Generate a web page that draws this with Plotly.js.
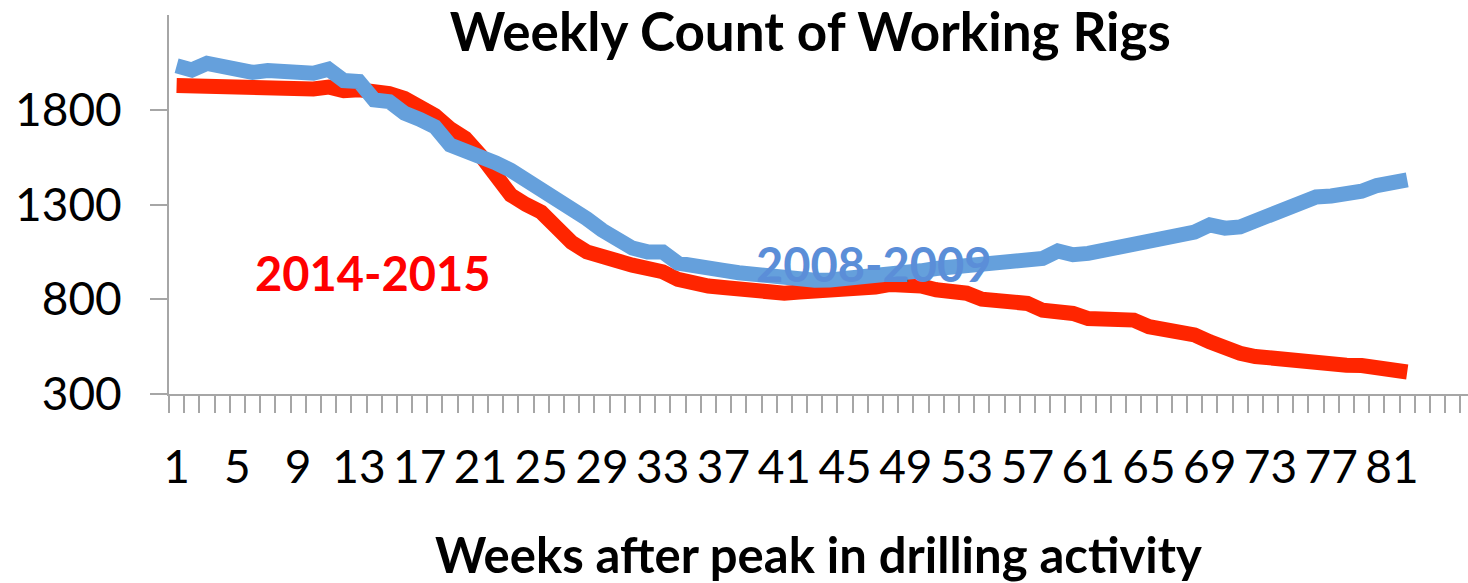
<!DOCTYPE html>
<html>
<head>
<meta charset="utf-8">
<script src="https://cdn.plot.ly/plotly-3.0.1.min.js"></script>
<style>html,body{margin:0;padding:0;background:#fff;}#chart{width:1468px;height:583px;}</style>
</head>
<body>
<div id="chart"></div>
<script>
const weeks = Array.from({length: 82}, (_, i) => i + 1);

const rigs20142015 = [1928,1925,1925,1924,1920,1909,1917,1912,1905,1910,
  1920,1900,1905,1900,1885,1860,1820,1770,1700,1650,
  1560,1450,1350,1300,1260,1180,1100,1050,1035,1003,
  980,962,945,905,882,870,862,852,845,838,
  832,838,840,842,862,857,865,878,882,870,
  850,840,832,800,790,784,778,742,735,725,
  698,698,692,690,655,642,632,612,575,540,
  515,498,487,482,478,469,458,452,450,434,
  425,416];

const rigs20082009 = [2032,2010,2045,2032,2012,1997,2007,1997,1990,1993,
  2014,1954,1949,1852,1843,1782,1750,1710,1614,1585,
  1562,1520,1480,1430,1380,1335,1290,1225,1165,1110,
  1070,1050,1050,990,972,962,952,940,928,916,
  905,892,900,902,908,912,922,928,940,950,
  962,972,982,990,993,998,1008,1015,1055,1035,
  1042,1058,1068,1092,1103,1128,1138,1155,1192,1175,
  1182,1215,1244,1272,1315,1340,1345,1348,1370,1400,
  1415,1430];

const xTickVals = [1,5,9,13,17,21,25,29,33,37,41,45,49,53,57,61,65,69,73,77,81];
const yTickVals = [300,800,1300,1800];

const labelRed = {text: '2014-2015', week: 13.9, value: 938};
const labelBlue = {text: '2008-2009', week: 46.9, value: 985};

const traces = [
  {x: weeks, y: rigs20142015, type: 'scatter', mode: 'lines', name: '2014-2015',
   line: {color: '#ff2500', width: 15, shape: 'linear'}},
  {x: weeks, y: rigs20082009, type: 'scatter', mode: 'lines', name: '2008-2009',
   line: {color: '#65a0dc', width: 15, shape: 'linear'}}
];

const layout = {
  width: 1468, height: 583,
  margin: {l: 169, r: 0, t: 15, b: 189},
  paper_bgcolor: '#ffffff', plot_bgcolor: '#ffffff',
  showlegend: false,
  font: {family: 'Lato, "Open Sans", sans-serif', color: '#000'},
  title: {text: '<b>Weekly Count of Working Rigs</b>', font: {size: 53, family: 'Lato, sans-serif', color: '#000'},
          xref: 'container', x: 0.552, xanchor: 'center', yref: 'container', y: 0.945, yanchor: 'middle'},
  xaxis: {
    range: [0.5, 86.0], showgrid: false, zeroline: false,
    showline: true, linecolor: '#a6a6a6', linewidth: 2,
    tickmode: 'array', tickvals: xTickVals, ticktext: xTickVals.map(String),
    ticks: '', ticklabelstandoff: 32,
    tickfont: {size: 46, family: 'Lato, sans-serif', color: '#000'},
    minor: {tickmode: 'linear', tick0: 0.5, dtick: 1, ticks: 'outside', ticklen: 17, tickwidth: 2, tickcolor: '#a6a6a6', showgrid: false},
    title: {text: '<b>Weeks after peak in drilling activity</b>', font: {size: 49, family: 'Lato, sans-serif', color: '#000'}, standoff: 47}
  },
  yaxis: {
    range: [300, 2300], showgrid: false, zeroline: false,
    showline: true, linecolor: '#a6a6a6', linewidth: 2,
    tickmode: 'array', tickvals: yTickVals, ticktext: yTickVals.map(String),
    ticks: 'outside', ticklen: 17, tickwidth: 2, tickcolor: '#a6a6a6',
    ticklabelstandoff: 19,
    tickfont: {size: 46, family: 'Lato, sans-serif', color: '#000'}
  },
  annotations: [
    {x: labelRed.week, y: labelRed.value, xref: 'x', yref: 'y', text: '<b>' + labelRed.text + '</b>', showarrow: false,
     font: {size: 47, color: '#ff0000', family: 'Lato, sans-serif'}, xanchor: 'center', yanchor: 'middle'},
    {x: labelBlue.week, y: labelBlue.value, xref: 'x', yref: 'y', text: '<b>' + labelBlue.text + '</b>', showarrow: false,
     font: {size: 47, color: '#5b8ed8', family: 'Lato, sans-serif'}, xanchor: 'center', yanchor: 'middle'}
  ]
};

Plotly.newPlot('chart', traces, layout, {displayModeBar: false, staticPlot: true});
</script>
</body>
</html>
